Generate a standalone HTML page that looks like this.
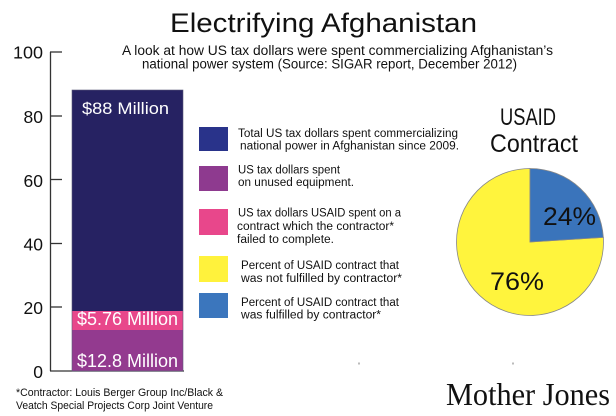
<!DOCTYPE html>
<html>
<head>
<meta charset="utf-8">
<style>
  html,body{margin:0;padding:0;background:#fff;}
  svg{display:block;}
  text{font-family:"Liberation Sans",sans-serif;fill:#111;}
</style>
</head>
<body>
<svg width="616" height="416" viewBox="0 0 616 416" xmlns="http://www.w3.org/2000/svg">
  <rect width="616" height="416" fill="#fff"/>

  <!-- Title -->
  <text x="170" y="32" font-size="27" textLength="307" lengthAdjust="spacingAndGlyphs">Electrifying Afghanistan</text>
  <text x="122" y="55" font-size="13.5" textLength="431" lengthAdjust="spacingAndGlyphs">A look at how US tax dollars were spent commercializing Afghanistan’s</text>
  <text x="142" y="68.5" font-size="13.5" textLength="375" lengthAdjust="spacingAndGlyphs">national power system (Source: SIGAR report, December 2012)</text>

  <!-- Axis -->
  <g stroke="#333" stroke-width="1.3" fill="none">
    <line x1="50.5" y1="52" x2="50.5" y2="371"/>
    <line x1="50" y1="371" x2="184" y2="371"/>
    <line x1="50" y1="52" x2="62" y2="52"/>
    <line x1="50" y1="116" x2="62" y2="116"/>
    <line x1="50" y1="179.5" x2="62" y2="179.5"/>
    <line x1="50" y1="243.5" x2="62" y2="243.5"/>
    <line x1="50" y1="307" x2="62" y2="307"/>
  </g>
  <g font-size="17.5" text-anchor="end">
    <text x="43" y="58.5" textLength="30" lengthAdjust="spacingAndGlyphs">100</text>
    <text x="43" y="123">80</text>
    <text x="43" y="187">60</text>
    <text x="43" y="250.5">40</text>
    <text x="43" y="314">20</text>
    <text x="43" y="378">0</text>
  </g>

  <!-- Bar -->
  <rect x="72" y="90" width="111" height="221" fill="#262262"/>
  <rect x="72" y="311" width="111" height="19" fill="#e8478b"/>
  <rect x="72" y="330" width="111" height="41" fill="#933a8f"/>
  <rect x="72" y="90" width="111" height="281" fill="none" stroke="#5a5a7a" stroke-width="0.6"/>
  <text x="82" y="114" font-size="17" fill="#fff" style="fill:#fff" textLength="87" lengthAdjust="spacingAndGlyphs">$88 Million</text>
  <text x="77" y="325" font-size="18" style="fill:#fff" textLength="101" lengthAdjust="spacingAndGlyphs">$5.76 Million</text>
  <text x="77" y="367" font-size="18" style="fill:#fff" textLength="101" lengthAdjust="spacingAndGlyphs">$12.8 Million</text>

  <!-- small tick dots -->
  <rect x="358.5" y="362.5" width="1" height="2" fill="#777"/>
  <rect x="512.5" y="362.5" width="1" height="2" fill="#777"/>

  <!-- Legend -->
  <rect x="199" y="127" width="29" height="24" fill="#29338a"/>
  <rect x="199" y="166" width="29" height="25" fill="#8e3a8f"/>
  <rect x="199" y="209" width="29" height="26" fill="#e8478b"/>
  <rect x="199" y="256" width="29" height="26" fill="#fff23c"/>
  <rect x="199" y="293" width="29" height="25" fill="#3b76bd"/>
  <g font-size="11.5">
    <text x="238" y="137" textLength="220" lengthAdjust="spacingAndGlyphs">Total US tax dollars spent commercializing</text>
    <text x="240" y="149.5" textLength="219" lengthAdjust="spacingAndGlyphs">national power in Afghanistan since 2009.</text>
    <text x="238" y="173.5" textLength="102" lengthAdjust="spacingAndGlyphs">US tax dollars spent</text>
    <text x="238" y="186" textLength="116" lengthAdjust="spacingAndGlyphs">on unused equipment.</text>
    <text x="238" y="216.5" textLength="163" lengthAdjust="spacingAndGlyphs">US tax dollars USAID spent on a</text>
    <text x="237" y="230" textLength="157" lengthAdjust="spacingAndGlyphs">contract which the contractor*</text>
    <text x="237" y="243" textLength="97" lengthAdjust="spacingAndGlyphs">failed to complete.</text>
    <text x="241" y="269" textLength="158" lengthAdjust="spacingAndGlyphs">Percent of USAID contract that</text>
    <text x="241" y="282" textLength="161" lengthAdjust="spacingAndGlyphs">was not fulfilled by contractor*</text>
    <text x="241" y="306" textLength="158" lengthAdjust="spacingAndGlyphs">Percent of USAID contract that</text>
    <text x="241" y="318.5" textLength="140" lengthAdjust="spacingAndGlyphs">was fulfilled by contractor*</text>
  </g>

  <!-- Pie title -->
  <text x="500" y="125" font-size="24" textLength="56" lengthAdjust="spacingAndGlyphs">USAID</text>
  <text x="490" y="152" font-size="25" textLength="88" lengthAdjust="spacingAndGlyphs">Contract</text>

  <!-- Pie -->
  <path d="M530,242 L603.35,237.4 A73.5,73.5 0 1 1 530,168.5 Z" fill="#fff43d" stroke="#888" stroke-width="0.8"/>
  <path d="M530,242 L530,168.5 A73.5,73.5 0 0 1 603.35,237.4 Z" fill="#3a74bb" stroke="#888" stroke-width="0.8"/>
  <text x="543" y="225" font-size="25" textLength="53" lengthAdjust="spacingAndGlyphs">24%</text>
  <text x="490" y="290" font-size="25" textLength="54" lengthAdjust="spacingAndGlyphs">76%</text>

  <!-- Footnote -->
  <text x="16" y="396" font-size="11" textLength="207" lengthAdjust="spacingAndGlyphs">*Contractor: Louis Berger Group Inc/Black &amp;</text>
  <text x="16" y="409" font-size="11" textLength="197" lengthAdjust="spacingAndGlyphs">Veatch Special Projects Corp Joint Venture</text>

  <!-- Logo -->
  <text x="446" y="405" font-size="32" style="font-family:'Liberation Serif',serif;fill:#111" textLength="164" lengthAdjust="spacingAndGlyphs">Mother Jones</text>
</svg>
</body>
</html>
